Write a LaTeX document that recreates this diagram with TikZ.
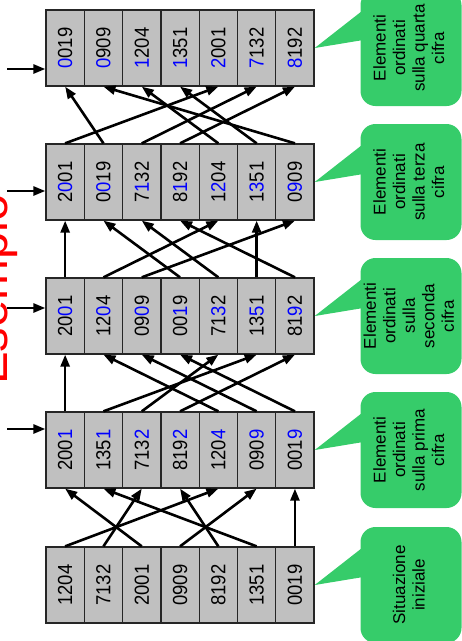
\documentclass[tikz,border=0pt]{standalone}
\usepackage{fontspec}
\setmainfont{Liberation Sans}
\usetikzlibrary{arrows.meta}
\definecolor{notegreen}{RGB}{54,204,106}
\definecolor{cellgray}{RGB}{192,192,192}
\newcommand{\hl}[1]{\textcolor{blue}{#1}}
\newcommand{\vnum}[1]{\rotatebox{90}{\scalebox{1}[1.1]{#1}}}
\newcommand{\vtext}[1]{\rotatebox{90}{\begin{tabular}{@{}c@{}}#1\end{tabular}}}

\begin{document}
\begin{tikzpicture}[
        x=1pt, y=-1pt,
        >={Triangle[length=12pt, width=9pt]},
        cell/.style={rectangle, draw=black!85, line width=1.3pt, fill=cellgray, minimum width=38.3pt, minimum height=76pt, inner sep=0pt, font=\fontsize{18.5}{20}\selectfont},
        flow/.style={->, line width=2.6pt},
        note/.style={rectangle, rounded corners=15pt, fill=notegreen, minimum width=101pt, minimum height=116pt, inner sep=0pt, font=\fontsize{17}{19.5}\selectfont},
    ]
    \useasboundingbox (0,0) rectangle (462,641);

    % Title along the left side
    \node[rotate=90, anchor=base west, inner sep=0pt, text=red, font=\fontsize{49}{49}\selectfont] (title) at (7,385) {Esempio};

    % Draw the starting row
    \foreach \i / \v in {1/1204, 2/7132, 3/2001, 4/0909, 5/8192, 6/1351, 7/0019}
        \node[cell] (R0-\i) at ({26.85+38.3*\i},585) {\vnum{\v}};

    % Draw the rows after each pass
    \foreach \i / \v in {1/200\hl{1}, 2/135\hl{1}, 3/713\hl{2}, 4/819\hl{2}, 5/120\hl{4}, 6/090\hl{9}, 7/001\hl{9}}
        \node[cell] (R1-\i) at ({26.85+38.3*\i},450) {\vnum{\v}};
    \foreach \i / \v in {1/20\hl{0}1, 2/12\hl{0}4, 3/09\hl{0}9, 4/00\hl{1}9, 5/71\hl{3}2, 6/13\hl{5}1, 7/81\hl{9}2}
        \node[cell] (R2-\i) at ({26.85+38.3*\i},316) {\vnum{\v}};
    \foreach \i / \v in {1/2\hl{0}01, 2/0\hl{0}19, 3/7\hl{1}32, 4/8\hl{1}92, 5/1\hl{2}04, 6/1\hl{3}51, 7/0\hl{9}09}
        \node[cell] (R3-\i) at ({26.85+38.3*\i},182) {\vnum{\v}};
    \foreach \i / \v in {1/\hl{0}019, 2/\hl{0}909, 3/\hl{1}204, 4/\hl{1}351, 5/\hl{2}001, 6/\hl{7}132, 7/\hl{8}192}
        \node[cell] (R4-\i) at ({26.85+38.3*\i},48) {\vnum{\v}};

    % Connect every element with its place in the next row
    \foreach \source / \dest in {1/5, 2/3, 3/1, 4/6, 5/4, 6/2, 7/7}
        \draw[flow] (R0-\source.north) -- (R1-\dest.south);
    \foreach \source / \dest in {1/1, 2/6, 3/5, 4/7, 5/2, 6/3, 7/4}
        \draw[flow] (R1-\source.north) -- (R2-\dest.south);
    \foreach \source / \dest in {1/1, 2/5, 3/7, 4/2, 5/3, 6/6, 7/4}
        \draw[flow] (R2-\source.north) -- (R3-\dest.south);
    \foreach \source / \dest in {1/5, 2/1, 3/6, 4/7, 5/3, 6/4, 7/2}
        \draw[flow] (R3-\source.north) -- (R4-\dest.south);

    % Pointers to the digit used in each pass
    \foreach \r / \y in {1/429, 2/308, 3/191, 4/69} {
        \coordinate (L\r) at (7,\y);
        \draw[flow] (L\r) -- (L\r -| R\r-1.west);
    }

    % Callouts on the right
    \foreach \r / \y / \txt in {0/585/{Situazione\\iniziale},
                                1/450/{Elementi\\ordinati\\sulla prima\\cifra},
                                2/316/{Elementi\\ordinati\\sulla\\seconda\\cifra},
                                3/182/{Elementi\\ordinati\\sulla terza\\cifra},
                                4/48/{Elementi\\ordinati\\sulla quarta\\cifra}} {
        \node[note] (N\r) at (411,\y) {\vtext{\txt}};
        \fill[notegreen] (R\r-7.east) -- ([xshift=3pt, yshift=38pt]N\r.west) -- ([xshift=3pt, yshift=8pt]N\r.west) -- cycle;
    }
\end{tikzpicture}
\end{document}
